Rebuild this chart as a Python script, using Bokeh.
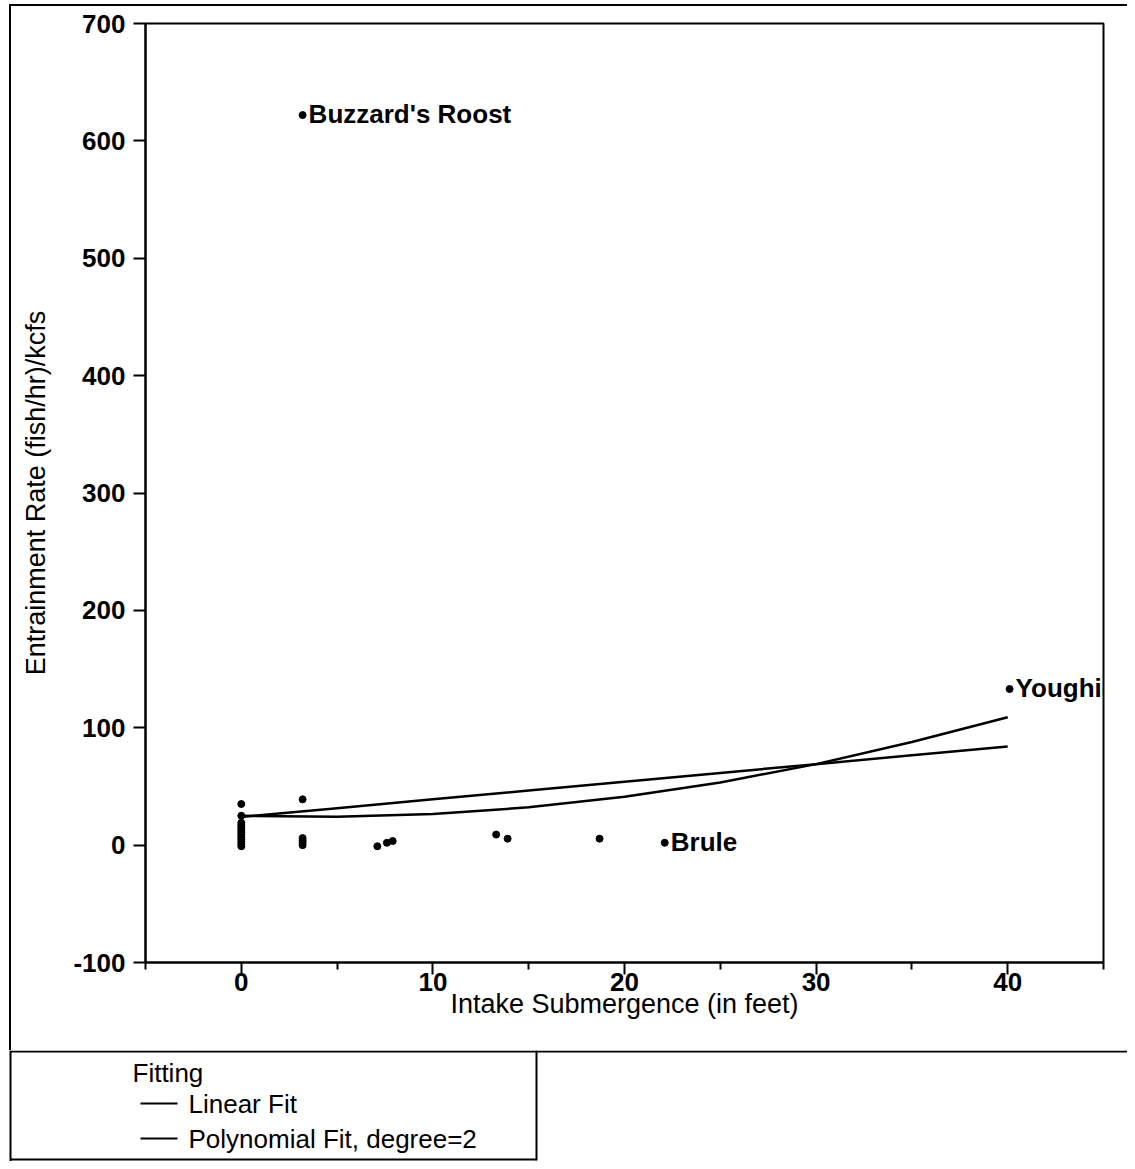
from bokeh.plotting import figure
from bokeh.models import Range1d, FixedTicker, ColumnDataSource
from bokeh.core.properties import value
from bokeh.embed import file_html
from bokeh.resources import INLINE

# ---------------- data ----------------
sub_ft = [0, 0, 0, 0, 0, 0, 0, 0, 0, 0, 0, 0, 0,
          3.2, 3.2, 3.2, 3.2, 3.2,
          7.1, 7.6, 7.9, 13.3, 13.9, 18.7, 22.1, 40.1, 3.2]
rate = [-1, 1, 3, 5, 7, 9, 11, 13, 15, 17, 19, 25, 35,
        0, 2, 4, 6, 39,
        -1, 2, 3.5, 9, 5.5, 5.5, 2, 133, 622]

label_names = ["Buzzard's Roost", "Brule", "Youghiogheny"]
label_x = [3.2, 22.1, 40.1]
label_y = [622, 2, 133]

fit_x = [0, 5, 10, 15, 20, 25, 30, 35, 40]
linear_fit = [24, 31.5, 39, 46.5, 54, 61.5, 69, 76.5, 84]
poly_fit = [25, 24.1, 26.5, 32.2, 41.2, 53.4, 69.0, 87.8, 109]

x_ticks = [0, 10, 20, 30, 40]
x_minor_ticks = [-5, 5, 15, 25, 35, 45]
y_ticks = [-100, 0, 100, 200, 300, 400, 500, 600, 700]

legend_title = "Fitting"
legend_items = ["Linear Fit", "Polynomial Fit, degree=2"]

FONT = "Liberation Sans"
W = 1127
H1 = 1050
H2 = 111

# ---------------- main plot ----------------
p = figure(width=W, height=H1,
           x_range=Range1d(-5, 45), y_range=Range1d(-100, 700),
           output_backend="svg", toolbar_location=None,
           min_border_left=145, min_border_right=W - 1103,
           min_border_top=23, min_border_bottom=H1 - 962)
p.grid.visible = False
p.outline_line_color = "black"
p.outline_line_width = 2
p.background_fill_color = "white"
p.border_fill_color = None
p.styles = {
    "background": "linear-gradient(#000,#000) 9px 4px / 2px 100% no-repeat, "
                  "linear-gradient(#000,#000) 9px 4px / 100% 2px no-repeat, #fff"
}

p.xaxis.ticker = FixedTicker(ticks=x_ticks, minor_ticks=x_minor_ticks)
p.yaxis.ticker = FixedTicker(ticks=y_ticks, minor_ticks=[])
p.yaxis.major_label_overrides = {-100: "-100"}

for ax in (p.xaxis[0], p.yaxis[0]):
    ax.axis_line_width = 2
    ax.axis_line_color = "black"
    ax.major_tick_line_width = 2
    ax.major_tick_line_color = "black"
    ax.major_tick_in = 0
    ax.major_tick_out = 12
    ax.minor_tick_line_width = 2
    ax.minor_tick_line_color = "black"
    ax.minor_tick_in = 0
    ax.minor_tick_out = 7
    ax.major_label_text_font = FONT
    ax.major_label_text_font_style = "bold"
    ax.major_label_text_font_size = "26px"
    ax.major_label_text_color = "black"
    ax.axis_label_text_font = FONT
    ax.axis_label_text_font_style = "normal"
    ax.axis_label_text_font_size = "27px"
    ax.axis_label_text_color = "black"

p.xaxis.axis_label = "Intake Submergence (in feet)"
p.yaxis.axis_label = "Entrainment Rate (fish/hr)/kcfs"
p.xaxis.major_label_standoff = -2
p.xaxis.axis_label_standoff = -5
p.yaxis.major_label_standoff = 8
p.yaxis.axis_label_standoff = 19

p.line(fit_x, linear_fit, line_color="black", line_width=2.5)
p.line(fit_x, poly_fit, line_color="black", line_width=2.5)

p.scatter(sub_ft, rate, marker="circle", size=7, fill_color="black", line_color="black")

lab = ColumnDataSource(dict(x=label_x, y=label_y, t=label_names))
p.text(x="x", y="y", text="t", source=lab, x_offset=6, y_offset=-1,
       text_baseline="middle", text_align="left",
       text_font=value(FONT), text_font_style="bold",
       text_font_size="26px", text_color="black")

# ---------------- legend strip ----------------
q = figure(width=W, height=H2, x_range=Range1d(0, W), y_range=Range1d(H2, 0),
           x_axis_type=None, y_axis_type=None,
           output_backend="svg", toolbar_location=None,
           min_border=0, min_border_left=0, min_border_right=0,
           min_border_top=0, min_border_bottom=0)
q.grid.visible = False
q.outline_line_color = None
q.background_fill_color = "white"
q.border_fill_color = "white"

q.line([10, W], [1, 1], line_color="black", line_width=2)
q.line([10, 10], [0, H2], line_color="black", line_width=2)
q.line([536, 536], [0, 110], line_color="black", line_width=2)
q.line([10, 536], [109, 109], line_color="black", line_width=2)

q.text(x=[132], y=[22], text=[legend_title], text_baseline="middle",
       text_font=value(FONT), text_font_size="26px", text_color="black")
q.multi_line([[140, 177], [140, 177]], [[53, 53], [88, 88]],
             line_color="black", line_width=2)
q.text(x=[188, 188], y=[53, 88], text=legend_items, text_baseline="middle",
       text_font=value(FONT), text_font_size="26px", text_color="black")

open("out.html", "w").write(file_html([p, q], INLINE))
